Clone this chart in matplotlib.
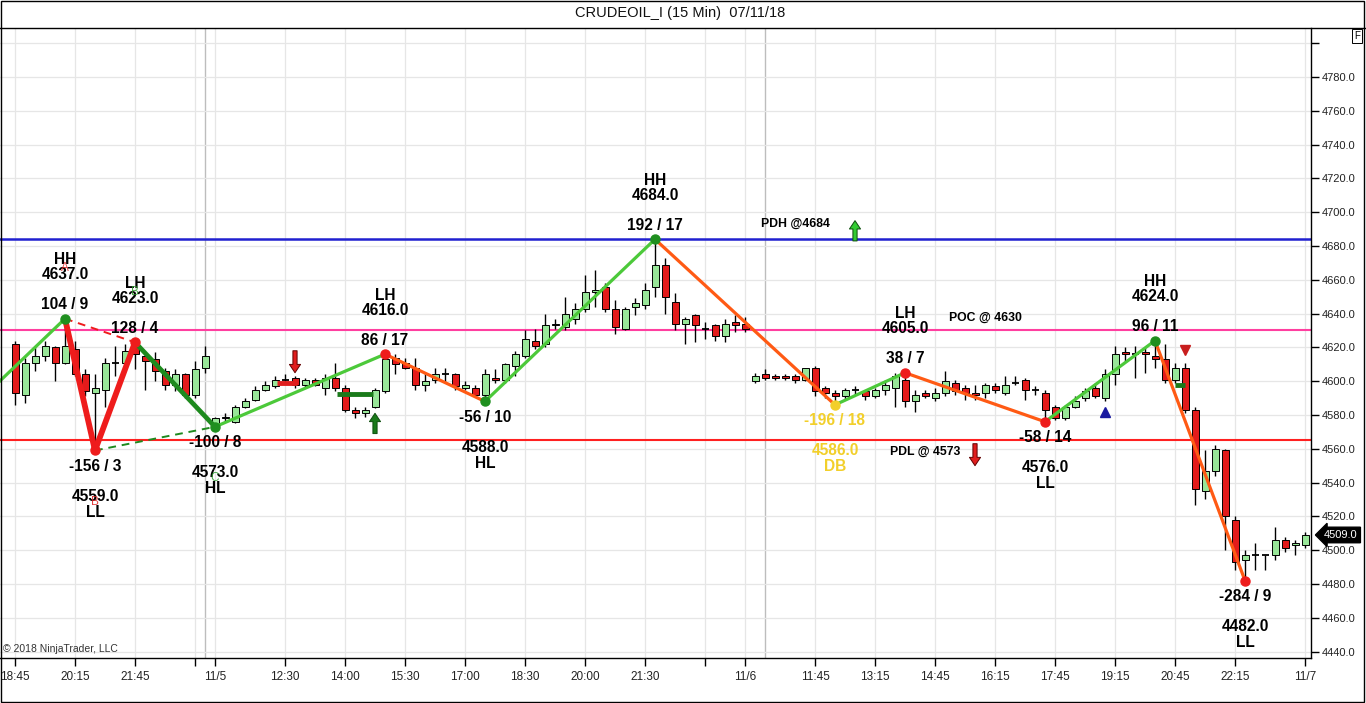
import matplotlib
matplotlib.use('Agg')
import matplotlib.pyplot as plt
from matplotlib.lines import Line2D
from matplotlib.patches import Rectangle
from matplotlib.transforms import blended_transform_factory

plt.rcParams['font.family'] = ['Liberation Sans', 'DejaVu Sans']

# ---------------- data ----------------
opens = [4622, 4592, 4611, 4615, 4620, 4611, 4619, 4604, 4593, 4595,
         4611, 4611, 4623, 4615, 4613, 4606, 4598, 4604, 4592, 4608,
         4573, 4578, 4576, 4585, 4589, 4595, 4597, 4601, 4602, 4598,
         4601, 4596, 4602, 4596, 4583, 4581, 4585, 4594, 4614, 4611,
         4608, 4598, 4601, 4604, 4604, 4596, 4596, 4592, 4602, 4601,
         4609, 4615, 4624, 4622, 4633, 4632, 4637, 4643, 4653, 4656,
         4643, 4631, 4644, 4645, 4656, 4669, 4647, 4634, 4639, 4631,
         4633, 4627, 4635, 4634, 4600, 4604, 4603, 4603, 4603, 4601,
         4608, 4596, 4593, 4591, 4595, 4594, 4591, 4595, 4596, 4601,
         4588, 4593, 4590, 4593, 4599, 4596, 4593, 4593, 4597, 4593,
         4599, 4601, 4595, 4593, 4585, 4578, 4585, 4590, 4596, 4590,
         4604, 4617, 4616, 4617, 4615, 4613, 4601, 4608, 4583, 4535,
         4547, 4559, 4518, 4494, 4497, 4497, 4497, 4506, 4503, 4503]
highs = [4624, 4614, 4620, 4624, 4621, 4637, 4624, 4607, 4604, 4614,
         4621, 4622, 4623, 4617, 4617, 4608, 4607, 4605, 4612, 4621,
         4579, 4581, 4586, 4590, 4597, 4600, 4603, 4604, 4603, 4602,
         4602, 4604, 4611, 4598, 4585, 4585, 4596, 4616, 4616, 4614,
         4614, 4605, 4608, 4608, 4605, 4600, 4598, 4607, 4607, 4611,
         4618, 4630, 4631, 4640, 4637, 4650, 4646, 4663, 4666, 4658,
         4648, 4644, 4649, 4658, 4684, 4673, 4652, 4638, 4640, 4635,
         4634, 4637, 4639, 4638, 4605, 4607, 4604, 4604, 4604, 4608,
         4609, 4597, 4595, 4596, 4597, 4595, 4596, 4601, 4605, 4605,
         4595, 4595, 4596, 4606, 4601, 4598, 4598, 4599, 4599, 4603,
         4603, 4602, 4597, 4595, 4586, 4586, 4591, 4596, 4599, 4607,
         4621, 4620, 4621, 4620, 4624, 4622, 4611, 4611, 4585, 4559,
         4562, 4560, 4520, 4500, 4504, 4497, 4514, 4508, 4506, 4511]
lows = [4586, 4587, 4606, 4612, 4600, 4610, 4603, 4591, 4559, 4585,
        4603, 4610, 4607, 4595, 4600, 4595, 4594, 4590, 4590, 4605,
        4573, 4576, 4575, 4584, 4588, 4594, 4596, 4599, 4596, 4596,
        4597, 4592, 4594, 4582, 4578, 4579, 4584, 4593, 4604, 4607,
        4595, 4594, 4599, 4599, 4595, 4595, 4591, 4588, 4599, 4599,
        4603, 4614, 4619, 4620, 4631, 4630, 4634, 4641, 4644, 4641,
        4628, 4630, 4639, 4643, 4650, 4640, 4630, 4622, 4623, 4625,
        4624, 4623, 4629, 4629, 4599, 4601, 4601, 4601, 4599, 4600,
        4591, 4590, 4586, 4589, 4592, 4589, 4590, 4592, 4585, 4585,
        4582, 4590, 4588, 4591, 4592, 4589, 4589, 4590, 4593, 4592,
        4598, 4589, 4592, 4576, 4577, 4577, 4584, 4588, 4590, 4588,
        4598, 4612, 4602, 4605, 4608, 4599, 4599, 4581, 4527, 4530,
        4544, 4500, 4488, 4482, 4488, 4488, 4494, 4499, 4497, 4501]
closes = [4593, 4611, 4615, 4621, 4611, 4621, 4604, 4594, 4596, 4611,
          4611, 4618, 4616, 4612, 4606, 4598, 4604, 4592, 4607, 4615,
          4578, 4579, 4585, 4588, 4595, 4598, 4601, 4601, 4598, 4601,
          4598, 4602, 4596, 4583, 4581, 4583, 4595, 4613, 4610, 4608,
          4598, 4600, 4604, 4604, 4597, 4598, 4592, 4604, 4601, 4610,
          4616, 4625, 4621, 4633, 4634, 4640, 4643, 4653, 4654, 4643,
          4632, 4643, 4646, 4654, 4669, 4650, 4634, 4637, 4633, 4631,
          4627, 4634, 4633, 4631, 4603, 4602, 4602, 4602, 4601, 4608,
          4594, 4593, 4591, 4595, 4595, 4591, 4595, 4598, 4603, 4588,
          4592, 4591, 4593, 4600, 4594, 4593, 4592, 4598, 4595, 4598,
          4599, 4595, 4595, 4583, 4578, 4585, 4588, 4594, 4591, 4604,
          4616, 4616, 4616, 4616, 4613, 4601, 4608, 4583, 4536, 4547,
          4560, 4520, 4493, 4497, 4497, 4497, 4506, 4501, 4504, 4509]

tick_bars = [0, 6, 12, 18, 20, 27, 33, 39, 45, 51, 57, 63, 69, 73,
             80, 86, 92, 98, 104, 110, 116, 122, 129]
tick_labels = ["18:45", "20:15", "21:45", "", "11/5", "12:30", "14:00",
               "15:30", "17:00", "18:30", "20:00", "21:30", "", "11/6",
               "11:45", "13:15", "14:45", "16:15", "17:45", "19:15",
               "20:45", "22:15", "11/7"]
session_breaks = [19, 75]
price_ticks = list(range(4440, 4801, 20))

# zigzag swing points (first one lies before the visible window)
swing_bars = [-4, 5, 8, 12, 20, 37, 47, 64, 82, 89, 103, 114, 123]
swing_prices = [4586, 4637, 4559, 4623, 4573, 4616, 4588, 4684, 4586,
                4605, 4576, 4624, 4482]
swing_types = ["", "HH", "LL", "LH", "HL", "LH", "HL", "HH", "DB", "LH",
               "LL", "HH", "LL"]
swing_ratios = ["", "104 / 9", "-156 / 3", "128 / 4", "-100 / 8",
                "86 / 17", "-56 / 10", "192 / 17", "-196 / 18", "38 / 7",
                "-58 / 14", "96 / 11", "-284 / 9"]
swing_is_high = [False, True, False, True, False, True, False, True,
                 False, True, False, True, False]
segment_styles = ["up", "abc", "abc", "c", "up", "down", "up", "down",
                  "up", "down", "up", "down"]
dot_colors = ["", "g", "r", "r", "g", "r", "g", "g", "y", "r", "r", "g", "r"]

# key levels
pdh_level = 4684
poc_level = 4630
pdl_line = 4565

# signal arrows: bar, tail price, tip price, kind
arrow_bars = [28, 36, 84, 96]
arrow_tails = [4618, 4569, 4683, 4563]
arrow_tips = [4605, 4581, 4695, 4550]
arrow_kinds = ["red", "dkgreen", "green", "red"]

# short signal bars: start bar, end bar, price, kind
sig_start = [26.2, 32.2, 116.0]
sig_end = [28.2, 35.8, 117.0]
sig_price = [4599, 4592.4, 4598]
sig_kind = ["red", "dkgreen", "dkgreen"]

# ABC letters
abc_text = ["A", "B", "B", "C"]
abc_bars = [5, 12, 8, 20]
abc_prices = [4667, 4653, 4528.5, 4542.5]
abc_kind = ["red", "green", "red", "green"]

# ---------------- styling ----------------
W, H = 1366, 703
C_UP = '#4cc93a'
C_DOWN = '#ff5a14'
C_RED = '#ee1c1c'
C_DKG = '#1e8a1e'
C_YEL = '#f2cf2a'
dotmap = {"g": '#1f8f1f', "r": '#ee1c1c', "y": '#f2cf2a'}
kindmap = {"red": '#e01e1e', "dkgreen": '#1a7a1a', "green": '#33cc33'}


def fx(px):
    return px / W


def fy(py):
    return 1 - py / H


fig = plt.figure(figsize=(W / 100, H / 100), dpi=100)
fig.patch.set_facecolor('white')
ax = fig.add_axes([0, fy(658), fx(1311), (658 - 28) / H])

ax.set_xlim(-1.5, 129.6)
ax.set_ylim(4436.2, 4809)

# grid & session lines
ax.set_yticks(price_ticks)
ax.set_yticklabels([f"{v:.1f}" if v < 4800 else "" for v in price_ticks])
ax.set_xticks(tick_bars)
ax.set_xticklabels(tick_labels)
ax.grid(True, color='#e6e6e6', lw=0.9, zorder=0)
ax.set_axisbelow(True)
for b in session_breaks:
    ax.axvline(b, color='#bdbdbd', lw=1.0, zorder=0.5)

ax.yaxis.tick_right()
ax.tick_params(axis='y', direction='out', length=6, width=1, pad=2,
               labelsize=8, labelcolor='#222222')
ax.tick_params(axis='x', direction='out', length=6, width=1, pad=3,
               labelsize=8.5, labelcolor='#222222')
for s in ['left', 'top']:
    ax.spines[s].set_visible(False)
for s in ['right', 'bottom']:
    ax.spines[s].set_linewidth(1.0)
    ax.spines[s].set_color('black')

# key level lines
ax.axhline(pdh_level, color='#2020d0', lw=1.8, zorder=1.5)
ax.axhline(poc_level, color='#ff3fa0', lw=1.5, zorder=1.5)
ax.axhline(pdl_line, color='#ff2020', lw=1.5, zorder=1.5)

# candles
bw = 0.7
for i, (o, h, l, c) in enumerate(zip(opens, highs, lows, closes)):
    ax.vlines(i, l, h, color='black', lw=1.0, zorder=2)
    if o == c:
        ax.hlines(o, i - bw / 2, i + bw / 2, color='black', lw=1.3, zorder=2.2)
    else:
        col = '#98e698' if c > o else '#e31b1b'
        ax.bar(i, abs(c - o), bottom=min(o, c), width=bw, color=col,
               edgecolor='black', linewidth=0.7, zorder=2.1)

# zigzag dashed ABC legs
ax.plot([swing_bars[1], swing_bars[3]], [swing_prices[1], swing_prices[3]],
        color=C_RED, lw=1.4, ls=(0, (4, 3)), zorder=3)
ax.plot([swing_bars[2], swing_bars[4]], [swing_prices[2], swing_prices[4]],
        color=C_DKG, lw=1.4, ls=(0, (4, 3)), zorder=3)

stylemap = {"up": (C_UP, 2.3), "down": (C_DOWN, 2.3),
            "abc": (C_RED, 4.2), "c": (C_DKG, 3.4)}
for k, st in enumerate(segment_styles):
    col, lw = stylemap[st]
    ax.plot([swing_bars[k], swing_bars[k + 1]],
            [swing_prices[k], swing_prices[k + 1]],
            color=col, lw=lw, solid_capstyle='round', zorder=3.2)

for k in range(1, len(swing_bars)):
    ax.plot(swing_bars[k], swing_prices[k], 'o', ms=6.5,
            color=dotmap[dot_colors[k]], zorder=3.5)
    if swing_is_high[k]:
        offs = (14, 44, 59)
    else:
        offs = (-16, -46, -62)
    tcol = C_YEL if swing_types[k] == "DB" else 'black'
    texts = [swing_ratios[k], f"{swing_prices[k]:.1f}", swing_types[k]]
    for t, dy in zip(texts, offs):
        ax.annotate(t, xy=(swing_bars[k], swing_prices[k]),
                    xytext=(0, dy), textcoords='offset pixels',
                    ha='center', va='center', fontsize=11.2,
                    fontweight='bold', color=tcol, zorder=4)

# ABC letters (overlaid on the swing labels, as in the source chart)
for t, b, p, kd in zip(abc_text, abc_bars, abc_prices, abc_kind):
    ax.text(b, p, t, ha='center', va='center', fontsize=8.5,
            color=('#e02020' if kd == 'red' else '#2a9a2a'), alpha=0.85,
            zorder=4.5)

# signal bars
for s, e, p, kd in zip(sig_start, sig_end, sig_price, sig_kind):
    ax.hlines(p, s, e, color=kindmap[kd], lw=3.5, zorder=3.1)

# arrows
for b, t0, t1, kd in zip(arrow_bars, arrow_tails, arrow_tips, arrow_kinds):
    ec = '#600000' if kd == 'red' else '#0d4d0d'
    ax.annotate('', xy=(b, t1), xytext=(b, t0),
                arrowprops=dict(facecolor=kindmap[kd], edgecolor=ec,
                                lw=0.7, width=3.0, headwidth=8,
                                headlength=6, shrink=0), zorder=4)

# triangles
ax.plot(109, 4582, marker='^', ms=7, color='#1a1aa0', zorder=4)
ax.plot(117, 4618.5, marker='v', ms=7, color='#c81e1e', zorder=4)

# level texts
ax.text(78, 4693, "PDH @4684", ha='center', va='center', fontsize=8.8,
        fontweight='bold', zorder=4)
ax.text(97, 4637.4, "POC @ 4630", ha='center', va='center', fontsize=8.8,
        fontweight='bold', zorder=4)
ax.text(91, 4558, "PDL @ 4573", ha='center', va='center', fontsize=8.8,
        fontweight='bold', zorder=4)

# last price marker
trans = blended_transform_factory(ax.transAxes, ax.transData)
ax.annotate(f"{closes[-1]:.1f}", xy=(1.0, closes[-1]), xycoords=trans,
            xytext=(13, 0), textcoords='offset pixels',
            ha='left', va='center', fontsize=8, color='white', zorder=6,
            annotation_clip=False,
            bbox=dict(boxstyle='larrow,pad=0.25', fc='black', ec='black'))

# copyright
ax.text(0.002, 0.006, "\u00a9 2018 NinjaTrader, LLC", transform=ax.transAxes,
        ha='left', va='bottom', fontsize=7.5, color='#333333', zorder=5)

# title and frame
fig.text(fx(680), fy(13), "CRUDEOIL_I (15 Min)  07/11/18", ha='center',
         va='center', fontsize=10.5, color='#111111')
fig.add_artist(Line2D([0, 1], [fy(27.5), fy(27.5)], color='black', lw=1.0))
fig.add_artist(Rectangle((0.0005, 0.001), 0.998, 0.998, fill=False,
                         ec='black', lw=1.0, transform=fig.transFigure))
fig.text(fx(1357), fy(36), "F", ha='center', va='center', fontsize=7,
         bbox=dict(boxstyle='square,pad=0.2', fc='white', ec='black', lw=0.7))

fig.savefig('out.png', dpi=100)
